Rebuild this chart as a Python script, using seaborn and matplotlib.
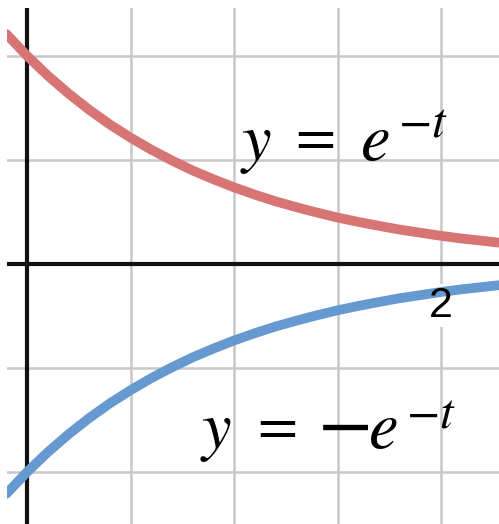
import matplotlib
matplotlib.use("Agg")
import matplotlib.pyplot as plt
import seaborn as sns
import pandas as pd

# Values
t_vals = [-0.1, 0.0, 0.1, 0.2, 0.3, 0.4, 0.5, 0.6, 0.7, 0.8, 0.9, 1.0,
          1.1, 1.2, 1.3, 1.4, 1.5, 1.6, 1.7, 1.8, 1.9, 2.0, 2.1, 2.2, 2.3]
upper_vals = [1.105, 1.0, 0.905, 0.819, 0.741, 0.670, 0.607, 0.549, 0.497,
              0.449, 0.407, 0.368, 0.333, 0.301, 0.273, 0.247, 0.223, 0.202,
              0.183, 0.165, 0.150, 0.135, 0.122, 0.111, 0.100]
lower_vals = [-v for v in upper_vals]
# equation labels: y = e^{-t}  and  y = -e^{-t}
label1_parts = [r"$y$", r"$=$", r"$e$", r"$-t$"]
label2_parts = [r"$y$", r"$=$", r"$-$", r"$e$", r"$-t$"]
tick_label = "2"

plt.rcParams["mathtext.fontset"] = "stix"
sns.set_style("white")

df = pd.DataFrame({
    "t": t_vals * 2,
    "y": upper_vals + lower_vals,
    "curve": ["upper"] * len(t_vals) + ["lower"] * len(t_vals),
})

fig = plt.figure(figsize=(4.99, 5.24), dpi=100)
ax = fig.add_axes([7 / 499, 0, 492 / 499, 516 / 524])

sns.lineplot(data=df, x="t", y="y", hue="curve",
             palette={"upper": "#d77474", "lower": "#6699cf"},
             linewidth=7, legend=False, ax=ax, zorder=3, sort=True)

ax.set_xlim(-0.097, 2.28)
ax.set_ylim(-1.25, 1.23)

for gx in [0.5, 1.0, 1.5, 2.0]:
    ax.axvline(gx, color="#c8c8c8", lw=1.8, zorder=1)
for gy in [-1.0, -0.5, 0.5, 1.0]:
    ax.axhline(gy, color="#c8c8c8", lw=1.8, zorder=1)
ax.axhline(0, color="#111111", lw=3, zorder=2)
ax.axvline(0, color="#111111", lw=3, zorder=2)

ax.set_xticks([])
ax.set_yticks([])
ax.set_xlabel("")
ax.set_ylabel("")
for s in ax.spines.values():
    s.set_visible(False)

# tick label "2" with white halo
ax.text(2.0, -0.2, tick_label, ha="center", va="center", fontsize=31,
        family="Liberation Sans", color="white", zorder=1.5,
        bbox=dict(facecolor="white", edgecolor="none", pad=1))
ax.text(2.0, -0.2, tick_label, ha="center", va="center", fontsize=31,
        family="Liberation Sans", color="black", zorder=5)

# label 1 pieces: (x, baseline y, size)
pos1 = [(1.029, 0.5, 48), (1.257, 0.532, 42), (1.609, 0.5, 48), (1.792, 0.611, 35)]
for txt, (x, y, fs) in zip(label1_parts, pos1):
    ax.text(x, y, txt, ha="left", va="baseline", fontsize=fs,
            color="black", zorder=5)

pos2 = [(0.836, -0.885, 48), (1.073, -0.855, 42), (1.40, -0.879, 58),
        (1.647, -0.885, 48), (1.831, -0.784, 35)]
for txt, (x, y, fs) in zip(label2_parts, pos2):
    ax.text(x, y, txt, ha="left", va="baseline", fontsize=fs,
            color="black", zorder=5)

fig.savefig("out.png", dpi=100, facecolor="white")
